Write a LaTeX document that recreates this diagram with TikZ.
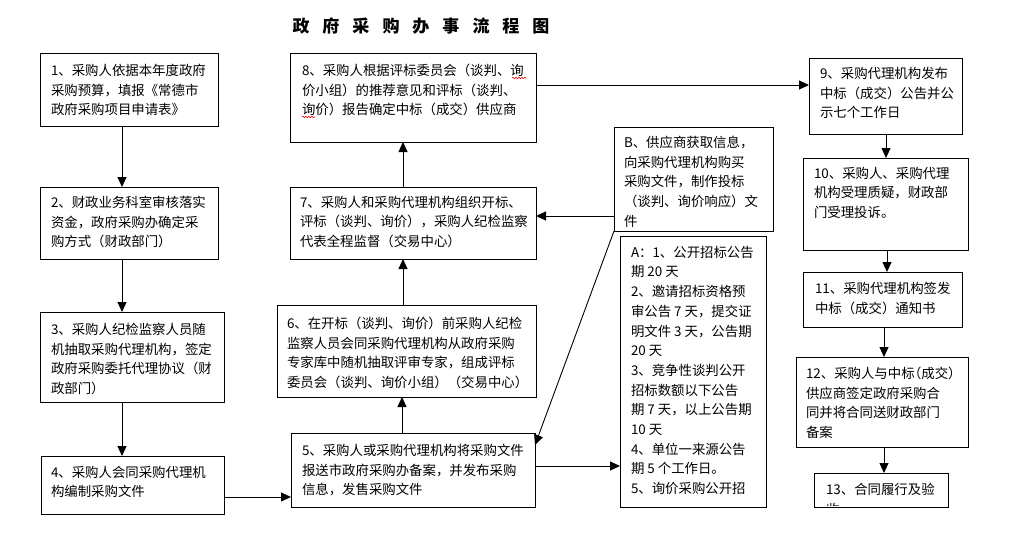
\documentclass[tikz,border=0pt]{standalone}
\usepackage{fontspec}
\setmainfont{Noto Sans CJK SC}
\newfontfamily\cjkhalt[RawFeature=+halt]{Noto Sans CJK SC}
\usetikzlibrary{arrows.meta,calc,decorations.pathmorphing}
\tikzset{
  box/.style={draw, line width=0.9pt, anchor=north west, inner sep=0pt, outer sep=0pt},
  txt/.style={anchor=north west, inner sep=0pt, outer sep=0pt, align=left, font=\fontsize{13.4pt}{19.7pt}\selectfont},
  arr/.style={line width=0.9pt, -{Triangle[width=9pt,length=10pt]}},
  wavy/.style={red, line width=0.6pt, decorate, decoration={snake, amplitude=0.8pt, segment length=3pt}}
}
\begin{document}
\begin{tikzpicture}[x=1pt,y=-1pt]
\useasboundingbox (0,0) rectangle (1027,557);
% title
\node[anchor=center, inner sep=0pt, font=\fontsize{17pt}{20pt}\selectfont\bfseries] (title) at (421,26)
  {政\hspace{13pt}府\hspace{13pt}采\hspace{13pt}购\hspace{13pt}办\hspace{13pt}事\hspace{13pt}流\hspace{13pt}程\hspace{13pt}图};
% boxes
\node[box, minimum width=178pt, minimum height=73pt] (n1) at (40,53) {};
\node[box, minimum width=246pt, minimum height=89pt] (n8) at (290,53) {};
\node[box, minimum width=153pt, minimum height=76pt] (n9) at (809,58) {};
\node[box, minimum width=159pt, minimum height=104pt] (nB) at (614,127) {};
\node[box, minimum width=178pt, minimum height=72pt] (n2) at (40,187) {};
\node[box, minimum width=246pt, minimum height=72pt] (n7) at (290,187) {};
\node[box, minimum width=165pt, minimum height=92pt] (n10) at (803,158) {};
\node[box, minimum width=146pt, minimum height=271pt] (nA) at (620,236) {};
\node[box, minimum width=159pt, minimum height=55pt] (n11) at (803,272) {};
\node[box, minimum width=184pt, minimum height=90pt] (n3) at (40,312) {};
\node[box, minimum width=259pt, minimum height=92pt] (n6) at (277,305) {};
\node[box, minimum width=172pt, minimum height=90pt] (n12) at (796,357) {};
\node[box, minimum width=183pt, minimum height=58pt] (n4) at (41,456) {};
\node[box, minimum width=244pt, minimum height=74pt] (n5) at (291,433) {};
\node[box, minimum width=134pt, minimum height=34pt] (n13) at (814,473) {};
% texts
\node[txt] (t1) at (51,64) {1、采购人依据本年度政府\\采购预算，填报《常德市\\政府采购项目申请表》};
\node[txt] (t8) at (302,64) {8、采购人根据评标委员会（谈判、询\\价小组）的推荐意见和评标（谈判、\\询价）报告确定中标（成交）供应商};
\node[txt] (t9) at (820,67) {9、采购代理机构发布\\中标（成交）公告并公\\示七个工作日};
\node[txt] (tB) at (624,136) {B、供应商获取信息，\\向采购代理机构购买\\采购文件，制作投标\\（谈判、询价响应）文\\件};
\node[txt] (t2) at (51,196) {2、财政业务科室审核落实\\资金，政府采购办确定采\\购方式（财政部门）};
\node[txt] (t7) at (300,196) {7、采购人和采购代理机构组织开标、\\评标（谈判、询价），采购人纪检监察\\代表全程监督（交易中心）};
\node[txt] (t10) at (814,167) {10、采购人、采购代理\\机构受理质疑，财政部\\门受理投诉。};
\node[txt] (tA) at (631,246) {A：1、公开招标公告\\期 20 天\\2、邀请招标资格预\\审公告 7 天，提交证\\明文件 3 天，公告期\\20 天\\3、竞争性谈判公开\\招标数额以下公告\\期 7 天，以上公告期\\10 天\\4、单位一来源公告\\期 5 个工作日。\\5、询价采购公开招};
\node[txt] (t11) at (815,282) {11、采购代理机构签发\\中标（成交）通知书};
\node[txt] (t3) at (51,323) {3、采购人纪检监察人员随\\机抽取采购代理机构，签定\\政府采购委托代理协议（财\\政部门）};
\node[txt] (t6) at (287,317) {6、在开标（谈判、询价）前采购人纪检\\监察人员会同采购代理机构从政府采购\\专家库中随机抽取评审专家，组成评标\\委员会（谈判、询价小组）（交易中心）};
\node[txt] (t12) at (806,367) {12、采购人与中标{\cjkhalt （}成交{\cjkhalt ）}\\供应商签定政府采购合\\同并将合同送财政部门\\备案};
\node[txt] (t4) at (51,466) {4、采购人会同采购代理机\\构编制采购文件};
\node[txt] (t5) at (302,444) {5、采购人或采购代理机构将采购文件\\报送市政府采购办备案，并发布采购\\信息，发售采购文件};
\begin{scope}
\clip (814.5,473.5) rectangle (947.5,505);
\node[txt] (t13) at (826,483) {13、合同履行及验\\收};
\end{scope}
% spell-check marks
\draw[wavy] (512,78) -- (526,78);
\draw[wavy] (302,117) -- (315,117);
% connectors
\draw[arr] ($(n1.south west)+(82,0)$) -- ($(n2.north west)+(82,0)$);
\draw[arr] ($(n2.south west)+(82,0)$) -- ($(n3.north west)+(82,0)$);
\draw[arr] ($(n3.south west)+(82,0)$) -- ($(n4.north west)+(81,0)$);
\draw[arr] ($(n4.north east)+(0,41)$) -- ($(n5.north west)+(0,64)$);
\draw[arr] ($(n5.north west)+(111,0)$) -- ($(n6.south west)+(125,0)$);
\draw[arr] ($(n6.north west)+(126,0)$) -- ($(n7.south west)+(113,0)$);
\draw[arr] ($(n7.north west)+(113,0)$) -- ($(n8.south west)+(113,0)$);
\draw[arr] ($(n8.north east)+(0,32)$) -- ($(n9.north west)+(0,27)$);
\draw[arr] ($(n9.south west)+(77,0)$) -- ($(n10.north west)+(83,0)$);
\draw[arr] ($(n10.south west)+(84,0)$) -- ($(n11.north west)+(84,0)$);
\draw[arr] ($(n11.south west)+(81,0)$) -- ($(n12.north west)+(88,0)$);
\draw[arr] ($(n12.south west)+(88,0)$) -- ($(n13.north west)+(70,0)$);
\draw[arr] ($(nB.north west)+(0,89)$) -- ($(n7.north east)+(0,29)$);
\draw[arr] (nB.south west) -- ($(n5.north east)+(0,12)$);
\draw[arr] ($(n5.north east)+(0,33)$) -- ($(nA.north west)+(0,230)$);
\end{tikzpicture}
\end{document}
